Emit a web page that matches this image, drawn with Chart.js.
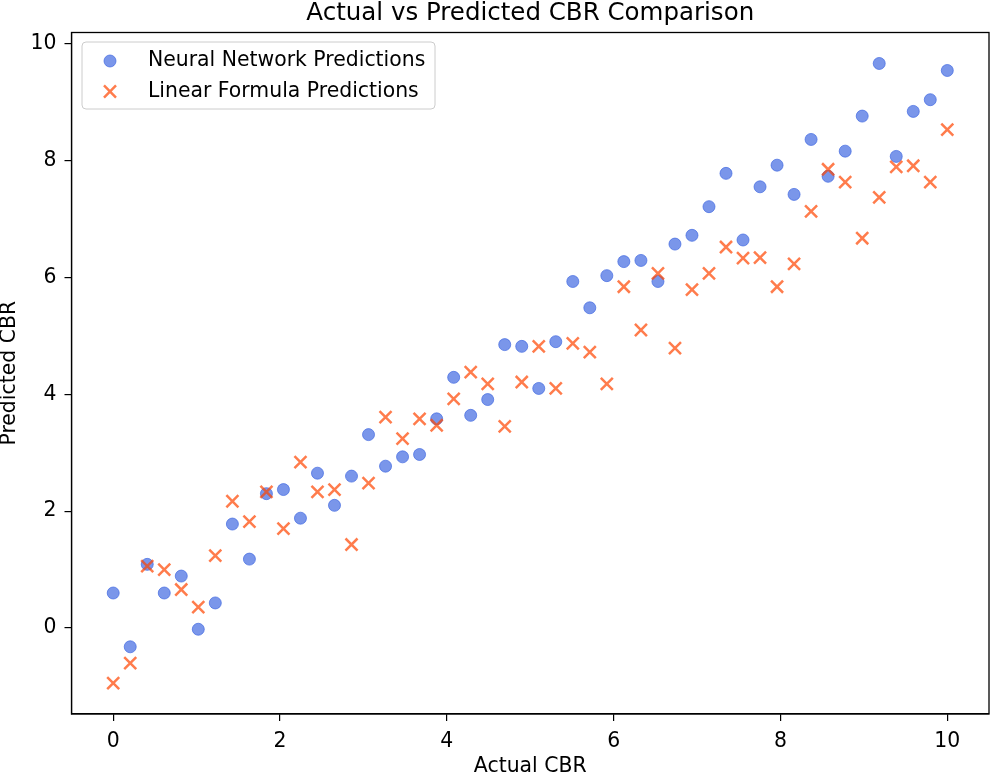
<!DOCTYPE html>
<html>
<head>
<meta charset="utf-8">
<script src="https://cdn.jsdelivr.net/npm/chart.js@4.4.1/dist/chart.umd.min.js"></script>
<style>
  body { margin: 0; background: #fff; }
  canvas { display: block; }
</style>
</head>
<body>
<canvas id="myChart" width="990" height="781"></canvas>
<script>
// actual CBR values (x axis)
const actualCBR = [0.000, 0.204, 0.408, 0.612, 0.816, 1.020, 1.224, 1.429, 1.633, 1.837,
  2.041, 2.245, 2.449, 2.653, 2.857, 3.061, 3.265, 3.469, 3.673, 3.878,
  4.082, 4.286, 4.490, 4.694, 4.898, 5.102, 5.306, 5.510, 5.714, 5.918,
  6.122, 6.327, 6.531, 6.735, 6.939, 7.143, 7.347, 7.551, 7.755, 7.959,
  8.163, 8.367, 8.571, 8.776, 8.980, 9.184, 9.388, 9.592, 9.796, 10.000];

const nnPredicted = [0.60, -0.32, 1.09, 0.60, 0.89, -0.02, 0.43, 1.78, 1.18, 2.30,
  2.37, 1.88, 2.65, 2.10, 2.60, 3.31, 2.77, 2.93, 2.97, 3.58,
  4.29, 3.64, 3.91, 4.85, 4.82, 4.10, 4.90, 5.93, 5.48, 6.03,
  6.27, 6.29, 5.93, 6.57, 6.72, 7.21, 7.78, 6.64, 7.55, 7.92,
  7.42, 8.36, 7.73, 8.16, 8.76, 9.66, 8.07, 8.84, 9.04, 9.54];

const linearPredicted = [-0.94, -0.60, 1.06, 1.00, 0.66, 0.36, 1.24, 2.17, 1.82, 2.33,
  1.70, 2.84, 2.33, 2.37, 1.43, 2.48, 3.61, 3.24, 3.58, 3.47,
  3.92, 4.38, 4.18, 3.45, 4.21, 4.82, 4.10, 4.87, 4.72, 4.18,
  5.84, 5.10, 6.07, 4.79, 5.79, 6.07, 6.52, 6.33, 6.34, 5.84,
  6.23, 7.13, 7.85, 7.63, 6.67, 7.37, 7.89, 7.91, 7.63, 8.53];

const xTicks = [0, 2, 4, 6, 8, 10];
const yTicks = [0, 2, 4, 6, 8, 10];
const seriesNames = ["Neural Network Predictions", "Linear Formula Predictions"];

Chart.defaults.font.family = "'DejaVu Sans', sans-serif";
Chart.defaults.color = "#000";

const blue = "rgba(65, 105, 225, 0.7)";
const orange = "rgba(255, 69, 0, 0.7)";

function pairs(ys) {
  return actualCBR.map((x, i) => ({ x: x, y: ys[i] }));
}

// box around the plot (matplotlib spines)
const frame = {
  id: "frame",
  afterDraw(chart) {
    const { ctx, chartArea: a } = chart;
    ctx.save();
    ctx.strokeStyle = "#000";
    ctx.lineWidth = 1.3;
    ctx.strokeRect(a.left, a.top, a.right - a.left, a.bottom - a.top);
    ctx.restore();
  }
};

// legend drawn inside the plot, upper left, with a rounded box
const legendBox = {
  id: "legendBox",
  afterDraw(chart) {
    const ctx = chart.ctx;
    ctx.save();
    ctx.beginPath();
    ctx.roundRect(82, 42, 353, 67, 4);
    ctx.fillStyle = "rgba(255,255,255,0.8)";
    ctx.fill();
    ctx.strokeStyle = "#cccccc";
    ctx.lineWidth = 1;
    ctx.stroke();
    chart.data.datasets.forEach((ds, i) => {
      const y = 61 + i * 30.5;
      ctx.fillStyle = ds.backgroundColor;
      ctx.strokeStyle = ds.borderColor;
      ctx.lineWidth = ds.borderWidth;
      Chart.helpers.drawPoint(ctx, {
        pointStyle: ds.pointStyle,
        radius: ds.pointRadius,
        borderWidth: ds.borderWidth,
        rotation: 0
      }, 110, y);
      ctx.fillStyle = "#000";
      ctx.font = "20.4px 'DejaVu Sans'";
      ctx.textBaseline = "middle";
      ctx.textAlign = "left";
      ctx.fillText(ds.label, 148, y);
    });
    ctx.restore();
  }
};

new Chart(document.getElementById("myChart"), {
  type: "scatter",
  data: {
    datasets: [
      {
        label: seriesNames[0],
        data: pairs(nnPredicted),
        pointStyle: "circle",
        pointRadius: 6,
        pointHoverRadius: 6,
        backgroundColor: blue,
        borderColor: blue,
        borderWidth: 1,
        order: 1
      },
      {
        label: seriesNames[1],
        data: pairs(linearPredicted),
        pointStyle: "crossRot",
        pointRadius: 8.5,
        pointHoverRadius: 8.5,
        backgroundColor: orange,
        borderColor: orange,
        borderWidth: 2.5,
        order: 0
      }
    ]
  },
  options: {
    responsive: false,
    animation: false,
    devicePixelRatio: 1,
    layout: { autoPadding: false, padding: { left: 0, right: 1, top: 0, bottom: 0 } },
    plugins: {
      legend: { display: false },
      tooltip: { enabled: false },
      title: {
        display: true,
        text: "Actual vs Predicted CBR Comparison",
        fullSize: false,
        color: "#000",
        font: { size: 24.5, weight: "normal", lineHeight: 1 },
        padding: { top: 1, bottom: 7 }
      }
    },
    scales: {
      x: {
        type: "linear",
        min: -0.5,
        max: 10.5,
        afterBuildTicks: s => { s.ticks = xTicks.map(v => ({ value: v })); },
        afterFit: s => { s.height = 67; s.paddingLeft = 0; s.paddingRight = 0; },
        grid: { drawOnChartArea: false, drawTicks: true, tickLength: 7, color: "#000", lineWidth: 1.2 },
        border: { display: true, color: "#000", width: 1.2 },
        ticks: { padding: 8, color: "#000", font: { size: 20.4 }, maxRotation: 0 },
        title: {
          display: true,
          text: "Actual CBR",
          color: "#000",
          font: { size: 20.4 },
          padding: { top: 0, bottom: 2 }
        }
      },
      y: {
        type: "linear",
        min: -1.47,
        max: 10.19,
        afterBuildTicks: s => { s.ticks = yTicks.map(v => ({ value: v })); },
        afterFit: s => { s.width = 71.5; s.paddingTop = 0; s.paddingBottom = 0; },
        grid: { drawOnChartArea: false, drawTicks: true, tickLength: 7, color: "#000", lineWidth: 1.2 },
        border: { display: true, color: "#000", width: 1.2 },
        ticks: { padding: 8, color: "#000", font: { size: 20.4 } },
        title: {
          display: true,
          text: "Predicted CBR",
          color: "#000",
          font: { size: 20.4, lineHeight: 1 },
          padding: 0
        }
      }
    }
  },
  plugins: [frame, legendBox]
});
</script>
</body>
</html>
